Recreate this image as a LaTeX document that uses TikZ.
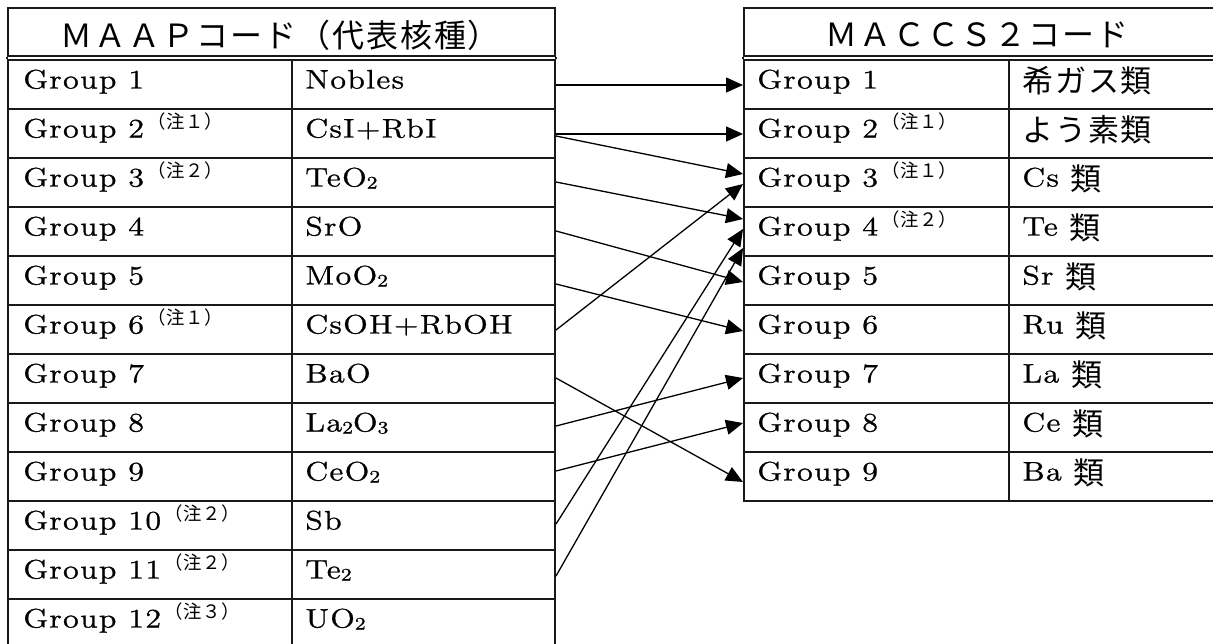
\documentclass[tikz,border=0pt]{standalone}
\usepackage{fontspec}
\setmainfont{Latin Modern Roman}[FakeStretch=1.2, LetterSpace=5, FakeBold=1]
\newfontfamily\cjk{Noto Sans CJK JP}[LetterSpace=6]
\newfontfamily\cjkn{Noto Sans CJK JP}[LetterSpace=4]
\usetikzlibrary{arrows.meta,calc}
\newcommand\jp[1]{\raisebox{-2pt}{\fontsize{15.5pt}{18pt}\cjk #1}}
\newcommand\chu[1]{\hspace{1.5pt}\raisebox{4.5pt}{\fontsize{9.2pt}{10pt}\cjkn （注#1）}}
\newcommand\sbs[1]{\raisebox{-1pt}{\fontsize{8.8pt}{9pt}\selectfont #1}}
\begin{document}
\begin{tikzpicture}[x=0.5pt,y=-0.5pt,
  ln/.style={draw=black!90, line width=1pt},
  hdr/.style={ln, anchor=north west, minimum height=24pt, inner sep=0pt},
  cellLA/.style={ln, anchor=north west, minimum width=142pt, minimum height=24.5pt, inner sep=0pt},
  cellLB/.style={ln, anchor=north west, minimum width=131.5pt, minimum height=24.5pt, inner sep=0pt},
  cellRA/.style={ln, anchor=north west, minimum width=132.5pt, minimum height=24.5pt, inner sep=0pt},
  cellRB/.style={ln, anchor=north west, minimum width=115pt, minimum height=24.5pt, inner sep=0pt},
  txt/.style={inner sep=0pt, anchor=base west, font=\fontsize{13.4pt}{15pt}\selectfont},
  htxt/.style={inner sep=0pt, anchor=center, font=\fontsize{16pt}{18pt}\cjk},
  arr/.style={draw=black, line width=0.65pt, -{Triangle[length=8.5pt,width=7.5pt]}}
]
\useasboundingbox (0,0) rectangle (1213,643);
% headers
\node[hdr, minimum width=273.5pt] (lh) at (7,7) {};
\node[hdr, minimum width=247.5pt] (rh) at (743,7) {};
\node[htxt] (lht) at (280.5,35) {ＭＡＡＰコード（代表核種）};
\node[htxt] (rht) at (977,35) {ＭＡＣＣＳ２コード};
% left table rows
\foreach \i/\g/\f in {1/{Group 1}/{Nobles},
  2/{Group 2\chu{１}}/{CsI+RbI},
  3/{Group 3\chu{２}}/{TeO\sbs{2}},
  4/{Group 4}/{SrO},
  5/{Group 5}/{MoO\sbs{2}},
  6/{Group 6\chu{１}}/{CsOH+RbOH},
  7/{Group 7}/{BaO},
  8/{Group 8}/{La\sbs{2}O\sbs{3}},
  9/{Group 9}/{CeO\sbs{2}},
  10/{Group 10\chu{２}}/{Sb},
  11/{Group 11\chu{２}}/{Te\sbs{2}},
  12/{Group 12\chu{３}}/{UO\sbs{2}}}{
  \node[cellLA] (la\i) at (7,{58.5+49*(\i-1)}) {};
  \node[cellLB] (lb\i) at (291,{58.5+49*(\i-1)}) {};
  \node[txt] (lat\i) at (23,{88.5+49*(\i-1)}) {\g};
  \node[txt] (lbt\i) at (305,{88.5+49*(\i-1)}) {\f};
}
% right table rows
\foreach \i/\g/\f in {1/{Group 1}/{\jp{希ガス類}},
  2/{Group 2\chu{１}}/{\jp{よう素類}},
  3/{Group 3\chu{１}}/{Cs \jp{類}},
  4/{Group 4\chu{２}}/{Te \jp{類}},
  5/{Group 5}/{Sr \jp{類}},
  6/{Group 6}/{Ru \jp{類}},
  7/{Group 7}/{La \jp{類}},
  8/{Group 8}/{Ce \jp{類}},
  9/{Group 9}/{Ba \jp{類}}}{
  \node[cellRA] (ra\i) at (743,{58.5+49*(\i-1)}) {};
  \node[cellRB] (rb\i) at (1008,{58.5+49*(\i-1)}) {};
  \node[txt] (rat\i) at (757,{88.5+49*(\i-1)}) {\g};
  \node[txt] (rbt\i) at (1022,{88.5+49*(\i-1)}) {\f};
}
% fill the gaps of the double rule
\draw[ln] (lh.south west) -- (la1.north west);
\draw[ln] (lh.south east) -- (lb1.north east);
\draw[ln] (rh.south west) -- (ra1.north west);
% connectors
\draw[arr] ($(lb1.east)+(0,1)$) -- ($(ra1.west)+(0,1)$);
\draw[arr] ($(lb2.east)+(0,1)$) -- ($(ra2.west)+(0,1)$);
\draw[arr] ($(lb2.east)+(0,3)$) -- ($(ra3.west)+(0,-8)$);
\draw[arr] ($(lb3.east)+(0,0)$) -- ($(ra4.west)+(0,-12)$);
\draw[arr] ($(lb4.east)+(0,0)$) -- ($(ra5.west)+(0,2)$);
\draw[arr] ($(lb5.east)+(0,4)$) -- ($(ra6.west)+(0,2)$);
\draw[arr] ($(lb6.east)+(0,1)$) -- ($(ra3.west)+(0,2)$);
\draw[arr] ($(lb7.east)+(0,0)$) -- ($(ra9.west)+(0,6)$);
\draw[arr] ($(lb8.east)+(0,-1)$) -- ($(ra7.west)+(0,0)$);
\draw[arr] ($(lb9.east)+(0,-5)$) -- ($(ra8.west)+(0,-4)$);
\draw[arr] ($(lb10.east)+(0,-1)$) -- ($(ra4.west)+(0,-2)$);
\draw[arr] ($(lb11.east)+(0,2)$) -- ($(ra4.west)+(0,17)$);
\end{tikzpicture}
\end{document}
